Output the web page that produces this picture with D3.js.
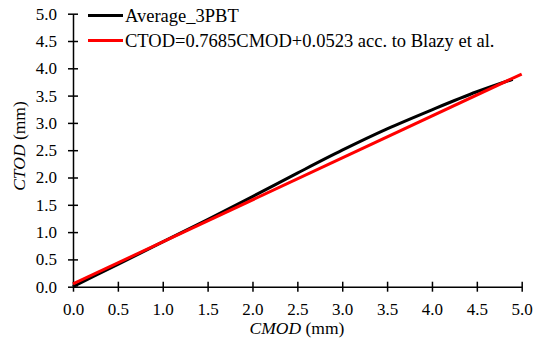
<!DOCTYPE html>
<html>
<head>
<meta charset="utf-8">
<script src="https://cdn.jsdelivr.net/npm/d3@7"></script>
<style>
  html, body { margin: 0; padding: 0; background: #fff; }
</style>
</head>
<body>
<svg id="chart" width="533" height="344"></svg>
<script>
// Measured average curve (three-point bending tests)
const cmod = [0, 0.5, 1.0, 1.5, 2.0, 2.5, 3.0, 3.5, 4.0, 4.5, 4.9];
const ctodAvg = [0, 0.41, 0.82, 1.23, 1.65, 2.08, 2.50, 2.89, 3.24, 3.57, 3.80];

// Linear relation after Blazy et al.
const slope = 0.7685;
const intercept = 0.0523;
const fitX = [0, 5.0];

const ticks = [0, 0.5, 1.0, 1.5, 2.0, 2.5, 3.0, 3.5, 4.0, 4.5, 5.0];
const legendLabels = ["Average_3PBT", "CTOD=0.7685CMOD+0.0523 acc. to Blazy et al."];
const legendColors = ["#000000", "#ff0000"];

const FONT = "Liberation Serif";

const svg = d3.select("#chart");
const x = d3.scaleLinear().domain([0, 5]).range([73, 521.7]);
const y = d3.scaleLinear().domain([0, 5]).range([286.7, 13.7]);

const fmt = d3.format(".1f");

// Axes with ticks crossing the axis line
const xAxis = d3.axisBottom(x).tickValues(ticks).tickFormat(fmt).tickSizeInner(5).tickSizeOuter(0).tickPadding(11);
const yAxis = d3.axisLeft(y).tickValues(ticks).tickFormat(fmt).tickSizeInner(5).tickSizeOuter(0).tickPadding(11);

const gx = svg.append("g").attr("transform", `translate(0,${y(0)})`).call(xAxis);
const gy = svg.append("g").attr("transform", `translate(${x(0)},0)`).call(yAxis);

[gx, gy].forEach(g => {
  g.attr("font-family", FONT).attr("font-size", 17);
  g.select(".domain").attr("stroke", "#000").attr("stroke-width", 1.5);
  g.selectAll(".tick line").attr("stroke", "#000").attr("stroke-width", 1.5);
  g.selectAll(".tick text").attr("fill", "#000");
});
gx.selectAll(".tick line").attr("y1", -5);
gy.selectAll(".tick line").attr("x1", 5);
gx.selectAll(".tick text").attr("dy", "0.71em");

// Axis titles
const xt = svg.append("text").attr("x", 297).attr("y", 334).attr("text-anchor", "middle")
  .attr("font-family", FONT).attr("font-size", 17.5).attr("fill", "#000");
xt.append("tspan").attr("font-style", "italic").text("CMOD");
xt.append("tspan").text(" (mm)");

const yt = svg.append("text").attr("transform", "translate(25,146) rotate(-90)")
  .attr("text-anchor", "middle").attr("font-family", FONT).attr("font-size", 17.5).attr("fill", "#000");
yt.append("tspan").attr("font-style", "italic").text("CTOD");
yt.append("tspan").text(" (mm)");

// Curves
const line = d3.line().x(d => x(d[0])).y(d => y(d[1])).curve(d3.curveMonotoneX);

svg.append("path")
  .datum(cmod.map((v, i) => [v, ctodAvg[i]]))
  .attr("d", line).attr("fill", "none").attr("stroke", legendColors[0]).attr("stroke-width", 3);

svg.append("path")
  .datum(fitX.map(v => [v, slope * v + intercept]))
  .attr("d", d3.line().x(d => x(d[0])).y(d => y(d[1])))
  .attr("fill", "none").attr("stroke", legendColors[1]).attr("stroke-width", 3);

// Legend
const lg = svg.append("g");
legendLabels.forEach((lab, i) => {
  const yy = 15.5 + i * 25;
  lg.append("line").attr("x1", 88).attr("x2", 123).attr("y1", yy).attr("y2", yy)
    .attr("stroke", legendColors[i]).attr("stroke-width", 3);
  lg.append("text").attr("x", 125).attr("y", yy).attr("dy", "0.35em")
    .attr("font-family", FONT).attr("font-size", 18.5)
    .attr("fill", "#000").text(lab);
});
</script>
</body>
</html>
